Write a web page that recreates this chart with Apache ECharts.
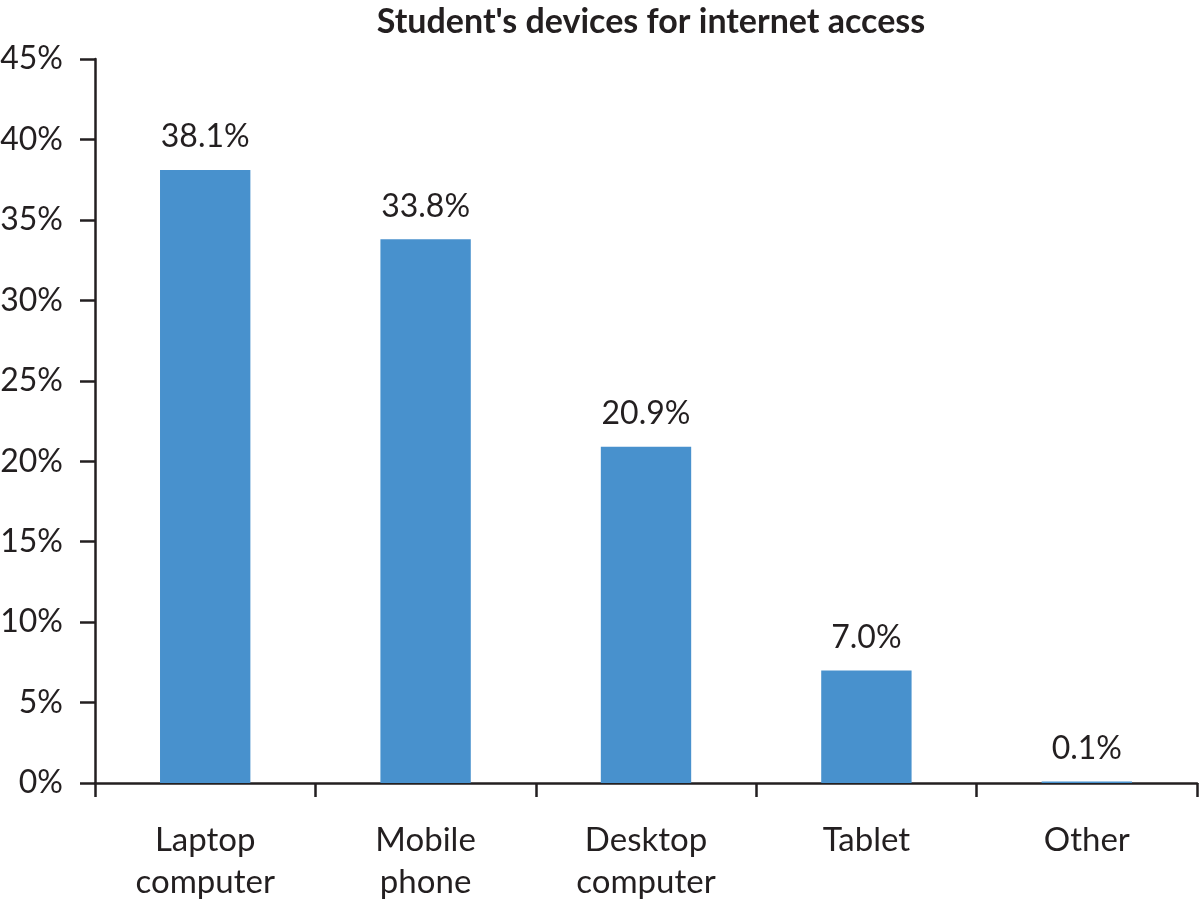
<!DOCTYPE html>
<html lang="en">
<head>
<meta charset="utf-8">
<title>Student's devices for internet access</title>
<script src="https://cdn.jsdelivr.net/npm/echarts@6/dist/echarts.min.js"></script>
<style>
html, body { margin: 0; padding: 0; background: #fff; }
#main { width: 1200px; height: 900px; }
</style>
</head>
<body>
<div id="main"></div>
<script>
var categories = ['Laptop\ncomputer', 'Mobile\nphone', 'Desktop\ncomputer', 'Tablet', 'Other'];
var shares = [38.1, 33.8, 20.9, 7.0, 0.1];

var textColor = '#231f20';
var fontFamily = 'Lato, "Open Sans", sans-serif';

var option = {
	animation: false,
	title: {
		text: "Student's devices for internet access",
		left: 646,
		textAlign: 'center',
		top: 0,
		textStyle: {
			fontFamily: fontFamily,
			fontWeight: 'bold',
			fontSize: 34,
			color: textColor
		}
	},
	grid: {
		left: 95,
		right: 3,
		top: 59,
		bottom: 117,
		containLabel: false,
		outerBoundsMode: 'none'
	},
	xAxis: {
		type: 'category',
		data: categories,
		axisLine: { lineStyle: { color: textColor, width: 2.5 } },
		axisTick: { show: true, length: 14, alignWithLabel: false, lineStyle: { color: textColor, width: 2.5 } },
		axisLabel: {
			margin: 36,
			fontFamily: fontFamily,
			fontSize: 33,
			lineHeight: 42,
			color: textColor,
			interval: 0
		}
	},
	yAxis: {
		type: 'value',
		min: 0,
		max: 45,
		interval: 5,
		splitLine: { show: false },
		axisLine: { show: true, lineStyle: { color: textColor, width: 2.5 } },
		axisTick: { show: true, length: 15, lineStyle: { color: textColor, width: 2.5 } },
		axisLabel: {
			margin: 32,
			fontFamily: fontFamily,
			fontSize: 32,
			color: textColor,
			formatter: '{value}%'
		}
	},
	series: [{
		type: 'bar',
		data: shares,
		barWidth: '41%',
		itemStyle: { color: '#4891cd' },
		label: {
			show: true,
			position: 'top',
			distance: 17,
			fontFamily: fontFamily,
			fontSize: 32,
			color: textColor,
			formatter: function (p) { return p.value.toFixed(1) + '%'; }
		}
	}]
};

var myChart = echarts.init(document.getElementById('main'));
myChart.setOption(option);
</script>
</body>
</html>
